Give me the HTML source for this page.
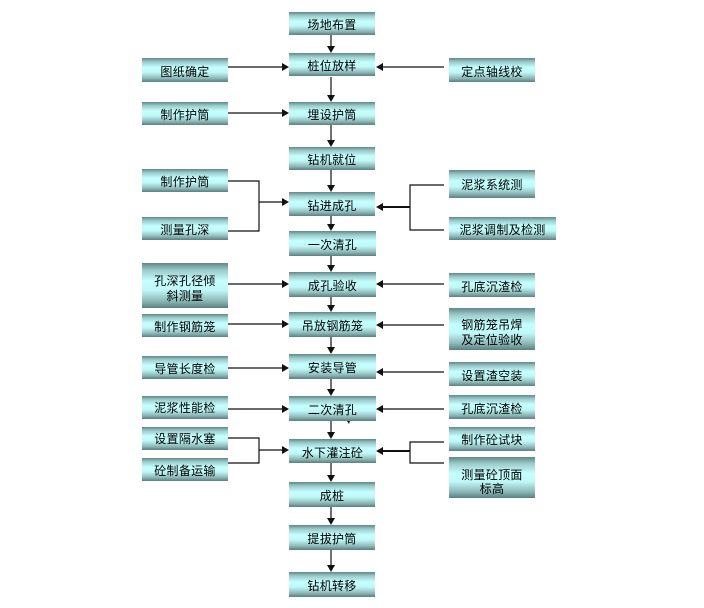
<!DOCTYPE html>
<html><head><meta charset="utf-8">
<style>
html,body{margin:0;padding:0;background:#fff;}
#c{position:relative;width:704px;height:608px;overflow:hidden;background:#fff;}
.b{position:absolute;box-sizing:border-box;display:flex;align-items:center;justify-content:center;text-align:center;padding-top:2px;
font:12px/15px "WenQuanYi Zen Hei","Noto Sans CJK SC",sans-serif;color:#000;letter-spacing:.3px;
background:linear-gradient(to bottom,#5f8888 0%,#9ccaca 16%,#c6ffff 40%,#c0f8f8 60%,#8fb8b8 84%,#5a8080 100%);}
svg{position:absolute;left:0;top:0;}
</style></head><body><div id="c">
<svg width="704" height="608" fill="none" stroke="#111" stroke-width="1">
<g stroke="#111" stroke-width="1.2">
<path d="M331 35V47M331 77V96M331 125V141M331 170V186M331 216V225M331 256V266M331 297V306M331 337V348M331 379V390M331 421V433M331 463V476M331 507V519M331 550V566"/>
<path d="M228 67H283M228 113H283M228 284H283M228 324H283M228 368H283M228 409H283"/>
<path d="M444 67H382M444 284H382M444 325H382M444 372H382M444 409H382"/>
<path d="M228 181H259V231H228M259 202H283"/>
<path d="M228 438H259V463H228M259 450H283"/>
<path d="M444 185H410V230H444"/>
<path d="M444 442H410V463H444"/>
<path d="M410 207H382M410 451H382" stroke-width="2"/>
</g>
<g fill="#111" stroke="none">
<path d="M327 46H335L331 53ZM327 95H335L331 102ZM327 140H335L331 147ZM327 185H335L331 192ZM327 224H335L331 231ZM327 265H335L331 272ZM327 305H335L331 312ZM327 347H335L331 354ZM327 389H335L331 396ZM327 432H335L331 439ZM327 475H335L331 482ZM327 518H335L331 525ZM327 565H335L331 572Z"/>
<path d="M282 63V71L289 67ZM282 109V117L289 113ZM282 198V206L289 202ZM282 280V288L289 284ZM282 320V328L289 324ZM282 364V372L289 368ZM282 405V413L289 409ZM282 446V454L289 450Z"/>
<path d="M383 63V71L376 67ZM383 203V211L376 207ZM383 280V288L376 284ZM383 321V329L376 325ZM383 368V376L376 372ZM383 405V413L376 409ZM383 447V455L376 451Z"/>
<path d="M347 421H350L349 424Z"/>
</g>
</svg>
<div class="b" style="left:289px;top:12px;width:86px;height:23px">场地布置</div>
<div class="b" style="left:289px;top:53px;width:86px;height:23px">桩位放样</div>
<div class="b" style="left:289px;top:102px;width:86px;height:23px">埋设护筒</div>
<div class="b" style="left:289px;top:147px;width:86px;height:23px">钻机就位</div>
<div class="b" style="left:289px;top:192px;width:86px;height:24px">钻进成孔</div>
<div class="b" style="left:289px;top:231px;width:87px;height:25px">一次清孔</div>
<div class="b" style="left:289px;top:272px;width:87px;height:25px">成孔验收</div>
<div class="b" style="left:289px;top:312px;width:87px;height:25px">吊放钢筋笼</div>
<div class="b" style="left:289px;top:354px;width:87px;height:25px">安装导管</div>
<div class="b" style="left:289px;top:396px;width:87px;height:25px">二次清孔</div>
<div class="b" style="left:289px;top:439px;width:87px;height:24px">水下灌注砼</div>
<div class="b" style="left:289px;top:482px;width:86px;height:25px">成桩</div>
<div class="b" style="left:289px;top:525px;width:86px;height:25px">提拔护筒</div>
<div class="b" style="left:289px;top:572px;width:86px;height:25px">钻机转移</div>

<div class="b" style="left:142px;top:58px;width:86px;height:24px">图纸确定</div>
<div class="b" style="left:142px;top:102px;width:86px;height:23px">制作护筒</div>
<div class="b" style="left:142px;top:169px;width:86px;height:23px">制作护筒</div>
<div class="b" style="left:142px;top:217px;width:86px;height:23px">测量孔深</div>
<div class="b" style="left:142px;top:263px;width:86px;height:45px;padding-top:5px">孔深孔径倾<br>斜测量</div>
<div class="b" style="left:142px;top:314px;width:86px;height:23px">制作钢筋笼</div>
<div class="b" style="left:142px;top:356px;width:86px;height:23px">导管长度检</div>
<div class="b" style="left:142px;top:396px;width:86px;height:23px;padding-top:0">泥浆性能检</div>
<div class="b" style="left:142px;top:427px;width:86px;height:23px;padding-top:0">设置隔水塞</div>
<div class="b" style="left:142px;top:458px;width:86px;height:23px;padding-top:2px">砼制备运输</div>

<div class="b" style="left:449px;top:58px;width:86px;height:24px">定点轴线校</div>
<div class="b" style="left:449px;top:170px;width:86px;height:28px;padding-top:0">泥浆系统测</div>
<div class="b" style="left:449px;top:217px;width:107px;height:23px">泥浆调制及检测</div>
<div class="b" style="left:449px;top:273px;width:86px;height:24px">孔底沉渣检</div>
<div class="b" style="left:449px;top:308px;width:86px;height:42px;padding-top:5px">钢筋笼吊焊<br>及定位验收</div>
<div class="b" style="left:449px;top:362px;width:86px;height:24px">设置渣空装</div>
<div class="b" style="left:449px;top:395px;width:86px;height:24px">孔底沉渣检</div>
<div class="b" style="left:449px;top:427px;width:86px;height:24px;padding-top:0">制作砼试块</div>
<div class="b" style="left:449px;top:457px;width:86px;height:41px;padding-top:8px;line-height:14px">测量砼顶面<br>标高</div>
</div></body></html>
